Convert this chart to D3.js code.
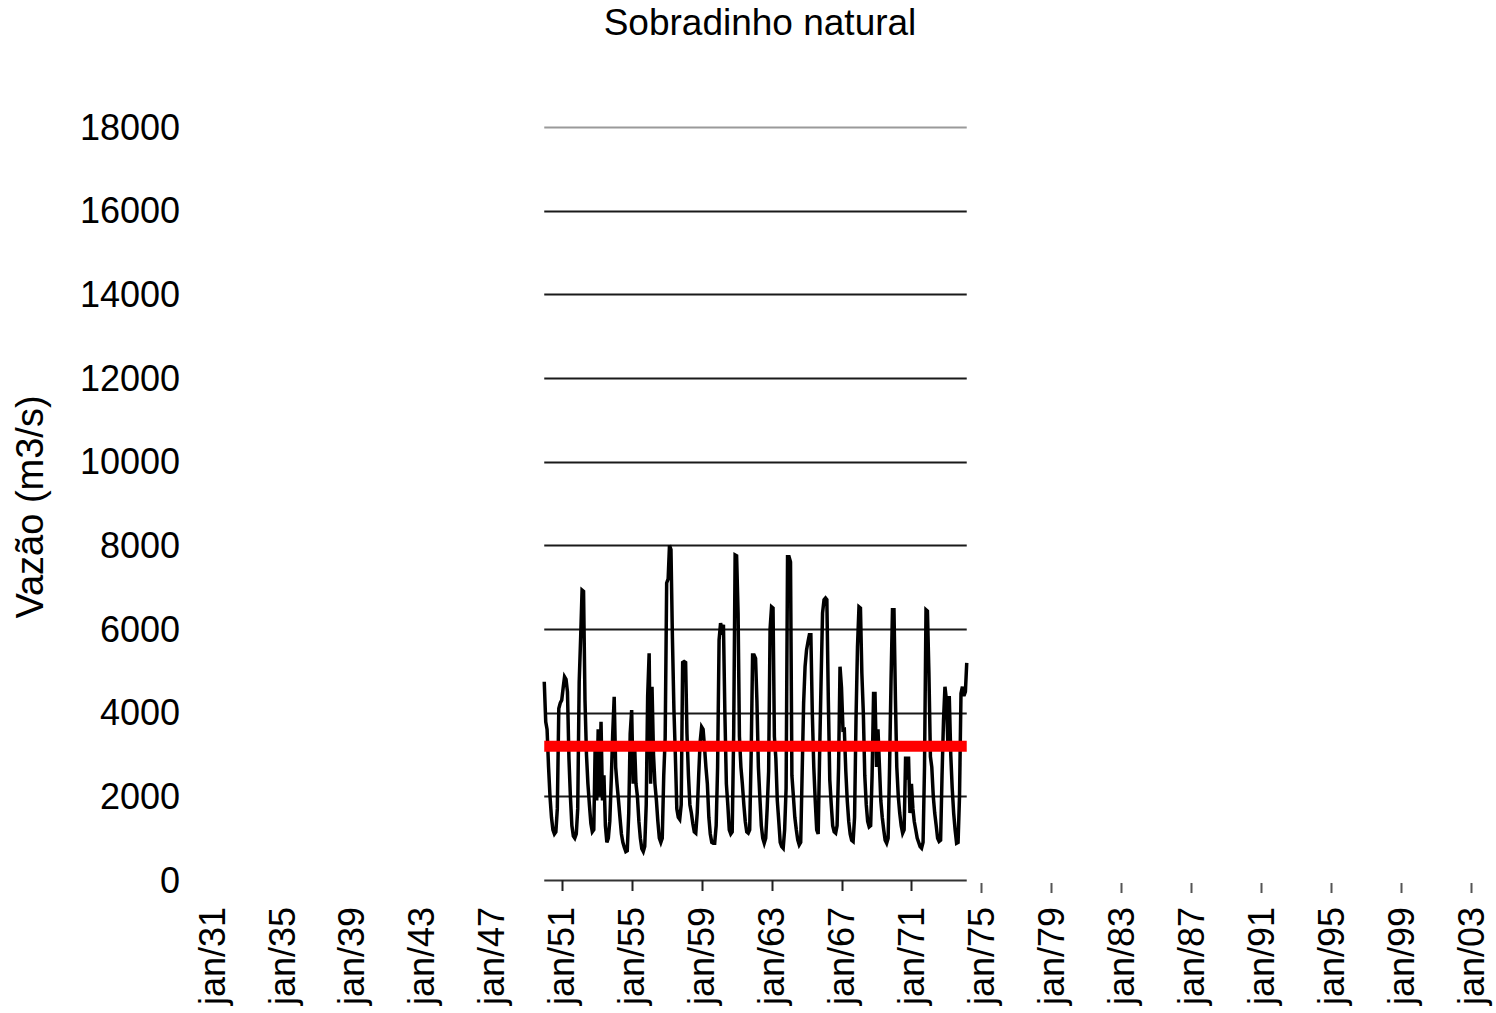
<!DOCTYPE html>
<html>
<head>
<meta charset="utf-8">
<script src="https://cdn.jsdelivr.net/npm/d3@7"></script>
<style>
  html, body { margin: 0; padding: 0; background: #fff; }
  svg { display: block; font-family: "Liberation Sans", Arial, sans-serif; }
</style>
</head>
<body>
<svg id="chart" width="1496" height="1013"></svg>
<script>
// Monthly natural inflow at Sobradinho (m3/s), starting January 1950
const startYear = 1950;
const monthlyFlow = [
  4740, 3780, 3600, 2700, 2000, 1500, 1200, 1100, 1150, 1700, 4100, 4230, // 1950
  4300, 4600, 4860, 4800, 4500, 2900, 2000, 1300, 1050, 1000, 1100, 1700, // 1951
  4740, 5820, 6930, 6900, 4300, 3000, 2300, 1800, 1350, 1150, 1200, 3300, // 1952
  1900, 3600, 2000, 3780, 1900, 2500, 1300, 900, 1000, 1400, 2400, 3500,  // 1953
  4380, 2700, 2300, 1900, 1500, 1100, 900, 780, 680, 700, 1600, 3500,     // 1954
  4060, 2300, 3300, 2300, 2000, 1400, 1000, 750, 680, 800, 1800, 4400,    // 1955
  5420, 2300, 4620, 3000, 2300, 1900, 1400, 1000, 900, 1000, 2500, 3400,  // 1956
  7100, 7200, 8000, 7900, 5800, 4100, 3000, 1700, 1500, 1450, 1800, 5200, // 1957
  5220, 5200, 3500, 2500, 1800, 1600, 1350, 1150, 1120, 1600, 2500, 3300, // 1958
  3660, 3600, 3200, 2700, 2300, 1500, 1100, 900, 880, 880, 1300, 2700,    // 1959
  5740, 6140, 6000, 6100, 4000, 2300, 1800, 1200, 1100, 1150, 3500, 7770, // 1960
  7750, 6380, 3430, 2700, 2300, 1800, 1400, 1150, 1120, 1200, 3000, 5380, // 1961
  5380, 5300, 4300, 2700, 2000, 1300, 1000, 880, 1000, 1700, 2600, 6000,  // 1962
  6530, 6500, 3430, 2900, 1900, 1400, 900, 800, 760, 1200, 2200, 7730,    // 1963
  7730, 7600, 2500, 2000, 1500, 1200, 960, 840, 900, 2560, 4230, 5100,    // 1964
  5500, 5700, 5860, 5860, 4000, 2700, 1900, 1200, 1100, 3000, 4800, 6380, // 1965
  6700, 6740, 6700, 4300, 2400, 1800, 1300, 1150, 1120, 1300, 2700, 5100, // 1966
  4600, 3590, 3600, 2600, 1900, 1400, 1100, 950, 920, 1500, 3900, 5580,   // 1967
  6530, 6500, 4950, 3990, 2500, 1800, 1400, 1270, 1300, 2500, 4460, 4460, // 1968
  2700, 3600, 2800, 1900, 1500, 1200, 950, 880, 1000, 2700, 4780, 6460,   // 1969
  6460, 4300, 2700, 2000, 1600, 1300, 1120, 1200, 2950, 2400, 2950, 1600, // 1970
  2300, 1700, 1400, 1200, 1000, 900, 800, 760, 900, 2700, 6460, 6430,     // 1971
  4950, 2950, 2700, 2000, 1600, 1300, 1000, 920, 950, 2500, 3830, 4620,   // 1972
  4300, 3200, 4400, 3000, 2200, 1600, 1200, 880, 900, 2000, 4460, 4620,   // 1973
  4400, 4500, 5190                                                        // 1974
];
const meanFlow = 3200;

// Axis definitions
const yTicks = [0, 2000, 4000, 6000, 8000, 10000, 12000, 14000, 16000, 18000];
const xTickYears = [1931, 1935, 1939, 1943, 1947, 1951, 1955, 1959, 1963, 1967,
                    1971, 1975, 1979, 1983, 1987, 1991, 1995, 1999, 2003];
const titleText = "Sobradinho natural";
const yTitleText = "Vazão (m3/s)";

const series = monthlyFlow.map((v, i) => ({ date: new Date(startYear, i, 1), value: v }));
const tickDates = xTickYears.map(y => new Date(y, 0, 1));

const svg = d3.select("#chart");
const FONT = 36;

const x = d3.scaleTime()
  .domain([new Date(1931, 0, 1), new Date(2003, 0, 1)])
  .range([212, 1471]);
const y = d3.scaleLinear().domain([0, 18000]).range([880, 127]);

const x0 = x(series[0].date);
const x1 = x(series[series.length - 1].date);

// Title
svg.append("text")
  .attr("x", 760).attr("y", 35)
  .attr("text-anchor", "middle")
  .attr("font-size", 37)
  .attr("fill", "#000")
  .text(titleText);

// Horizontal gridlines (the zero line is the category axis)
svg.append("g").selectAll("line")
  .data(yTicks.filter(d => d > 0))
  .join("line")
  .attr("x1", x0).attr("x2", x1)
  .attr("y1", d => Math.round(y(d)) + 0.5)
  .attr("y2", d => Math.round(y(d)) + 0.5)
  .attr("stroke", d => d === 18000 ? "#9a9a9a" : "#1a1a1a")
  .attr("stroke-width", 2);

// Y tick labels
svg.append("g").selectAll("text")
  .data(yTicks)
  .join("text")
  .attr("x", 180)
  .attr("y", d => y(d))
  .attr("dy", "0.35em")
  .attr("text-anchor", "end")
  .attr("font-size", FONT)
  .attr("fill", "#000")
  .text(d => d);

// Y axis title
svg.append("text")
  .attr("transform", "translate(43,507) rotate(-90)")
  .attr("text-anchor", "middle")
  .attr("font-size", 38)
  .attr("fill", "#000")
  .text(yTitleText);

// Flow series
const line = d3.line()
  .x(d => x(d.date))
  .y(d => y(d.value));

svg.append("path")
  .datum(series)
  .attr("fill", "none")
  .attr("stroke", "#000")
  .attr("stroke-width", 3.5)
  .attr("stroke-linejoin", "miter")
  .attr("d", line);

// Long-term mean
svg.append("line")
  .attr("x1", x0).attr("x2", x1)
  .attr("y1", y(meanFlow)).attr("y2", y(meanFlow))
  .attr("stroke", "#ff0000")
  .attr("stroke-width", 11);

// X axis line
svg.append("line")
  .attr("x1", x0).attr("x2", x1)
  .attr("y1", 880.5).attr("y2", 880.5)
  .attr("stroke", "#333")
  .attr("stroke-width", 2);

// X ticks: hang from the axis line inside the plotted span, loose marks after it
svg.append("g").selectAll("line")
  .data(tickDates.filter(d => x(d) >= x0))
  .join("line")
  .attr("x1", d => Math.round(x(d)) + 0.5)
  .attr("x2", d => Math.round(x(d)) + 0.5)
  .attr("y1", d => (x(d) <= x1 ? 880 : 883))
  .attr("y2", d => (x(d) <= x1 ? 891 : 893))
  .attr("stroke", d => (x(d) <= x1 ? "#222" : "#555"))
  .attr("stroke-width", 2);

// X tick labels
const fmtYY = d3.timeFormat("%y");
svg.append("g").selectAll("text")
  .data(tickDates)
  .join("text")
  .attr("transform", d => `translate(${x(d)},907) rotate(-90)`)
  .attr("dy", "0.35em")
  .attr("text-anchor", "end")
  .attr("font-size", FONT)
  .attr("fill", "#000")
  .text(d => "jan/" + fmtYY(d));
</script>
</body>
</html>
